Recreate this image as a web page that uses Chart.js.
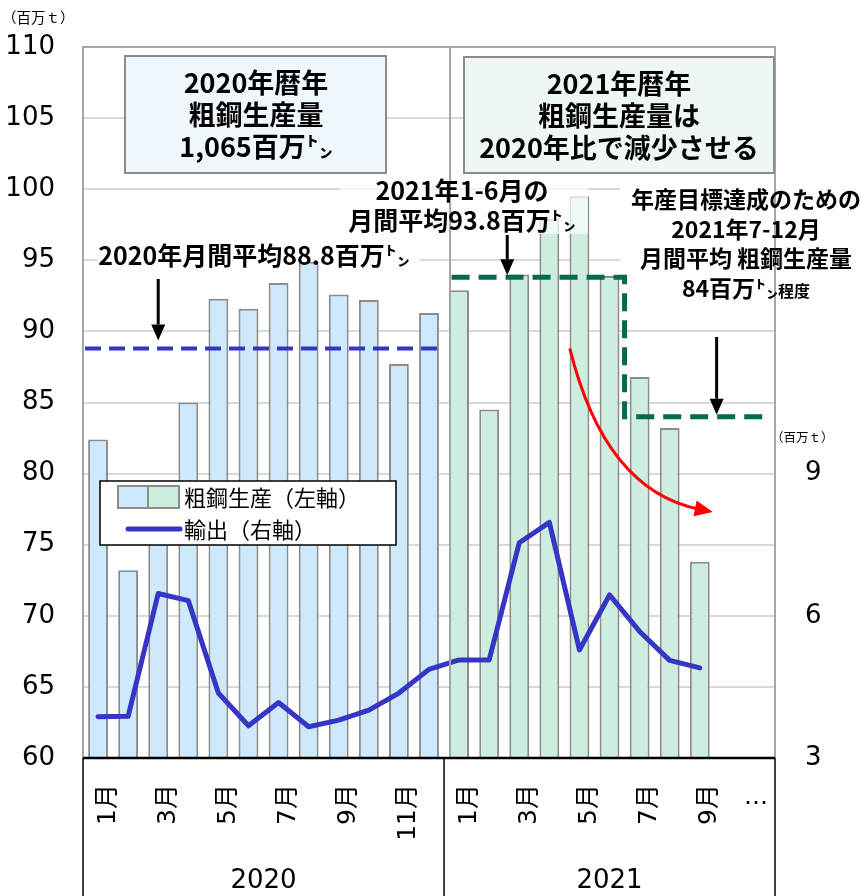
<!DOCTYPE html>
<html>
<head>
<meta charset="utf-8">
<script src="https://cdn.jsdelivr.net/npm/chart.js@4.4.1/dist/chart.umd.min.js"></script>
<style>
  html, body { margin: 0; padding: 0; background: #fff; }
  #wrap { width: 860px; height: 896px; }
</style>
</head>
<body>
<div id="wrap"><canvas id="chart" width="860" height="896"></canvas></div>
<script>
// ---- data ----
const months2020 = ['1月','2月','3月','4月','5月','6月','7月','8月','9月','10月','11月','12月'];
const months2021 = ['1月','2月','3月','4月','5月','6月','7月','8月','9月','10月','11月'];
const years = ['2020', '2021'];
const tickLabels = ['1月','','3月','','5月','','7月','','9月','','11月','',
                    '1月','','3月','','5月','','7月','','9月','','…'];
// crude steel production, million t (left axis)
const steel2020 = [82.4, 73.2, 79.0, 85.0, 92.3, 91.6, 93.4, 94.9, 92.6, 92.2, 87.7, 91.3];
const steel2021 = [92.9, 84.5, 94.0, 97.9, 99.5, 93.9, 86.8, 83.2, 73.8];
// steel exports, million t (right axis)
const exports2020 = [3.87, 3.88, 6.47, 6.32, 4.37, 3.68, 4.17, 3.66, 3.80, 4.01, 4.37, 4.87];
const exports2021 = [5.07, 5.07, 7.54, 7.97, 5.28, 6.44, 5.67, 5.06, 4.90];
const leftTicks = { min: 60, max: 110, step: 5 };
const rightTicks = [3, 6, 9];
const monthlyAvg2020 = 88.8;
const monthlyAvgH1_2021 = 93.8;
const monthlyTargetH2_2021 = 84;

const categories = months2020.concat(months2021);
const pad = (arr) => arr.concat(new Array(categories.length - arr.length).fill(null));
const production = pad(steel2020.concat(steel2021));
const exportsAll = pad(exports2020.concat(exports2021));

const BLUE_FILL = '#CDE9FB';
const GREEN_FILL = '#CDEDDE';
const barColors = categories.map((_, i) => i < months2020.length ? BLUE_FILL : GREEN_FILL);

const JP = '"Noto Sans CJK JP", "Noto Sans", sans-serif';
const NUM = '"DejaVu Sans", "Noto Sans CJK JP", sans-serif';

// ---- drawing helpers ----
function arrow(ctx, x1, y1, x2, y2, color, width, headLen, headW) {
  const ang = Math.atan2(y2 - y1, x2 - x1);
  const bx = x2 - headLen * Math.cos(ang), by = y2 - headLen * Math.sin(ang);
  ctx.save();
  ctx.strokeStyle = color; ctx.fillStyle = color; ctx.lineWidth = width;
  ctx.beginPath(); ctx.moveTo(x1, y1); ctx.lineTo(bx, by); ctx.stroke();
  ctx.beginPath();
  ctx.moveTo(x2, y2);
  ctx.lineTo(bx + headW / 2 * Math.sin(ang), by - headW / 2 * Math.cos(ang));
  ctx.lineTo(bx - headW / 2 * Math.sin(ang), by + headW / 2 * Math.cos(ang));
  ctx.closePath(); ctx.fill();
  ctx.restore();
}

// draws a line made of runs with different font sizes, centred on cx
function runs(ctx, parts, cx, cy, weight) {
  ctx.save();
  ctx.textBaseline = 'alphabetic';
  ctx.textAlign = 'left';
  let total = 0;
  parts.forEach(p => { ctx.font = `${weight} ${p.size}px ${JP}`; p.w = ctx.measureText(p.t).width; total += p.w; });
  let x = cx - total / 2;
  const base = cy + parts[0].size * 0.36;
  parts.forEach(p => {
    ctx.font = `${weight} ${p.size}px ${JP}`;
    ctx.fillStyle = '#000';
    ctx.fillText(p.t, x, base + (p.dy || 0));
    x += p.w;
  });
  ctx.restore();
}

function lines(ctx, arr, cx, y0, gap, size) {
  arr.forEach((l, i) => {
    const parts = Array.isArray(l) ? l : [{ t: l, size }];
    runs(ctx, parts, cx, y0 + i * gap, 'bold');
  });
}

const overlay = {
  id: 'overlay',
  beforeDatasetsDraw(chart) {
    const { ctx, chartArea: a } = chart;
    ctx.save();
    ctx.strokeStyle = '#A6A6A6';
    ctx.lineWidth = 2;
    ctx.strokeRect(a.left, a.top, a.right - a.left, a.bottom - a.top);
    ctx.restore();
  },
  afterDatasetsDraw(chart) {
    const { ctx, chartArea: a, scales } = chart;
    const x = scales.x, y = scales.y;
    const px = (i) => x.getPixelForValue(i);
    const boundary = (px(months2020.length - 1) + px(months2020.length)) / 2;

    // label backgrounds
    ctx.save();
    ctx.fillStyle = 'rgba(255,255,255,0.7)';
    ctx.fillRect(340, 175, 248, 59);
    ctx.fillStyle = '#fff';
    ctx.fillRect(620, 182, a.right - 621, 122);
    ctx.fillRect(97, 240, 323, 22);
    ctx.restore();

    // separator between years inside the plot
    ctx.save();
    ctx.strokeStyle = '#A6A6A6'; ctx.lineWidth = 2;
    ctx.beginPath(); ctx.moveTo(boundary + 6, a.top); ctx.lineTo(boundary + 6, a.bottom); ctx.stroke();
    ctx.restore();

    // 2020 monthly average (dashed blue)
    ctx.save();
    ctx.strokeStyle = '#3535C6'; ctx.lineWidth = 4; ctx.setLineDash([16, 8]);
    ctx.beginPath();
    ctx.moveTo(a.left + 2, y.getPixelForValue(monthlyAvg2020));
    ctx.lineTo(px(11.3), y.getPixelForValue(monthlyAvg2020));
    ctx.stroke();
    ctx.restore();

    // 2021 H1 average and H2 target (dashed dark green)
    ctx.save();
    ctx.strokeStyle = '#006B4F'; ctx.lineWidth = 5; ctx.setLineDash([18, 9]);
    ctx.beginPath();
    ctx.moveTo(px(11.75), y.getPixelForValue(monthlyAvgH1_2021));
    ctx.lineTo(px(17.5), y.getPixelForValue(monthlyAvgH1_2021));
    ctx.lineTo(px(17.5), y.getPixelForValue(monthlyTargetH2_2021));
    ctx.lineTo(px(22.15), y.getPixelForValue(monthlyTargetH2_2021));
    ctx.stroke();
    ctx.restore();

    // pointer arrows
    arrow(ctx, px(2), 279, px(2), y.getPixelForValue(monthlyAvg2020) - 8, '#000', 3, 16, 14);
    arrow(ctx, px(13.6), 235, px(13.6), y.getPixelForValue(monthlyAvgH1_2021) - 2, '#000', 3, 16, 14);
    arrow(ctx, px(20.56), 337, px(20.56), y.getPixelForValue(monthlyTargetH2_2021) - 2, '#000', 3, 16, 14);

    // red curved arrow (downward trend)
    const p0 = { x: px(15.68), y: y.getPixelForValue(88.8) };
    const p1 = { x: px(16.84), y: y.getPixelForValue(78.85) };
    const p2 = { x: px(20.43), y: y.getPixelForValue(77.3) };
    const ang = Math.atan2(p2.y - p1.y, p2.x - p1.x);
    const hl = 18;
    const ex = p2.x - hl * Math.cos(ang) * 0.8, ey = p2.y - hl * Math.sin(ang) * 0.8;
    ctx.save();
    ctx.strokeStyle = '#FF0000'; ctx.lineWidth = 3;
    ctx.beginPath(); ctx.moveTo(p0.x, p0.y); ctx.quadraticCurveTo(p1.x, p1.y, ex, ey); ctx.stroke();
    ctx.restore();
    arrow(ctx, ex, ey, p2.x, p2.y, '#FF0000', 3, hl, 16);

    // headline boxes
    ctx.save();
    ctx.lineWidth = 2; ctx.strokeStyle = '#8C8C8C';
    ctx.fillStyle = '#EFF7FD'; ctx.fillRect(125, 56, 261, 117); ctx.strokeRect(125, 56, 261, 117);
    ctx.fillStyle = '#EEF7F1'; ctx.fillRect(464, 57, 310, 116); ctx.strokeRect(464, 57, 310, 116);
    ctx.restore();
    lines(ctx, ['2020年暦年', '粗鋼生産量', '1,065百万㌧'], 256, 83, 32, 27);
    lines(ctx, ['2021年暦年', '粗鋼生産量は', '2020年比で減少させる'], 619, 84, 32, 27);

    // callouts
    lines(ctx, ['2020年月間平均88.8百万㌧'], 254, 256, 0, 25);
    lines(ctx, ['2021年1-6月の', '月間平均93.8百万㌧'], 462, 191, 30, 25);
    lines(ctx, ['年産目標達成のための', '2021年7-12月', '月間平均 粗鋼生産量',
      [{ t: '84百万㌧', size: 23 }, { t: '程度', size: 16 }]], 746, 200, 29.5, 23);

    // legend
    ctx.save();
    ctx.fillStyle = '#fff'; ctx.fillRect(100, 481, 296, 64);
    ctx.strokeStyle = '#000'; ctx.lineWidth = 1.5; ctx.strokeRect(100, 481, 296, 64);
    ctx.lineWidth = 2; ctx.strokeStyle = '#8C8C8C';
    ctx.fillStyle = BLUE_FILL; ctx.fillRect(118, 486, 30, 22); ctx.strokeRect(118, 486, 30, 22);
    ctx.fillStyle = GREEN_FILL; ctx.fillRect(148, 486, 31, 22); ctx.strokeRect(148, 486, 31, 22);
    ctx.strokeStyle = '#3535C6'; ctx.lineWidth = 5; ctx.lineCap = 'round';
    ctx.beginPath(); ctx.moveTo(128, 529); ctx.lineTo(180, 529); ctx.stroke();
    ctx.fillStyle = '#000'; ctx.font = `22px ${JP}`; ctx.textBaseline = 'middle'; ctx.textAlign = 'left';
    ctx.fillText(chart.data.datasets[1].label, 184, 498);
    ctx.fillText(chart.data.datasets[0].label, 184, 530);
    ctx.restore();
  },
  afterDraw(chart) {
    const { ctx, chartArea: a, scales } = chart;
    const x = scales.x;
    const px = (i) => x.getPixelForValue(i);
    const boundary = (px(months2020.length - 1) + px(months2020.length)) / 2;
    const H = chart.height;
    ctx.save();
    // category frame
    ctx.strokeStyle = '#000';
    ctx.lineWidth = 2.5;
    ctx.beginPath(); ctx.moveTo(a.left, a.bottom); ctx.lineTo(a.right, a.bottom); ctx.stroke();
    ctx.lineWidth = 1.5;
    [a.left, boundary, a.right].forEach(xx => {
      ctx.beginPath(); ctx.moveTo(xx, a.bottom); ctx.lineTo(xx, H); ctx.stroke();
    });
    // year labels
    ctx.fillStyle = '#000'; ctx.textAlign = 'center'; ctx.textBaseline = 'middle';
    ctx.font = `26px ${NUM}`;
    ctx.fillText(years[0], (a.left + boundary) / 2, 881);
    ctx.fillText(years[1], (boundary + a.right) / 2, 881);
    // continuation mark
    const idx = tickLabels.indexOf('…');
    ctx.font = `24px ${NUM}`;
    ctx.fillText(tickLabels[idx], px(idx) - 4, 798);
    // axis unit titles
    ctx.font = `14.5px ${JP}`; ctx.textAlign = 'left';
    ctx.fillText('（百万ｔ）', 2, 17);
    ctx.font = `12.5px ${JP}`;
    ctx.fillText('（百万ｔ）', a.right - 4, 437);
    ctx.restore();
  }
};

new Chart(document.getElementById('chart'), {
  data: {
    labels: categories,
    datasets: [
      {
        type: 'line', label: '輸出（右軸）', data: exportsAll, yAxisID: 'y2',
        borderColor: '#3535C6', borderWidth: 5, pointRadius: 0, tension: 0,
        borderJoinStyle: 'round', borderCapStyle: 'round', order: 0
      },
      {
        type: 'bar', label: '粗鋼生産（左軸）', data: production, yAxisID: 'y',
        backgroundColor: barColors, borderColor: '#8C8C8C', borderWidth: 2,
        categoryPercentage: 1, barPercentage: 0.66, order: 1
      }
    ]
  },
  options: {
    responsive: false, animation: false, devicePixelRatio: 1,
    layout: { padding: { top: 47, left: 0, right: 0, bottom: 0 } },
    plugins: { legend: { display: false }, tooltip: { enabled: false } },
    scales: {
      x: {
        type: 'category', offset: true,
        grid: { display: false }, border: { display: false },
        ticks: {
          autoSkip: false, minRotation: 90, maxRotation: 90, padding: 18, labelOffset: 10, color: '#000',
          font: { family: NUM, size: 25 },
          callback: (v, i) => tickLabels[i] === '…' ? '' : tickLabels[i]
        },
        afterFit: s => { s.height = 138; }
      },
      y: {
        position: 'left', min: leftTicks.min, max: leftTicks.max,
        ticks: { stepSize: leftTicks.step, color: '#000', padding: 28, font: { family: NUM, size: 26 } },
        grid: { color: '#D9D9D9', lineWidth: 2, drawTicks: false },
        border: { display: false },
        afterFit: s => { s.width = 83; }
      },
      y2: {
        position: 'right', min: 3, max: 18,
        ticks: {
          stepSize: 3, color: '#000', padding: 30, font: { family: NUM, size: 26 },
          callback: v => rightTicks.includes(v) ? v : ''
        },
        grid: { drawOnChartArea: false, drawTicks: false },
        border: { display: false },
        afterFit: s => { s.width = 85; }
      }
    }
  },
  plugins: [overlay]
});
</script>
</body>
</html>
